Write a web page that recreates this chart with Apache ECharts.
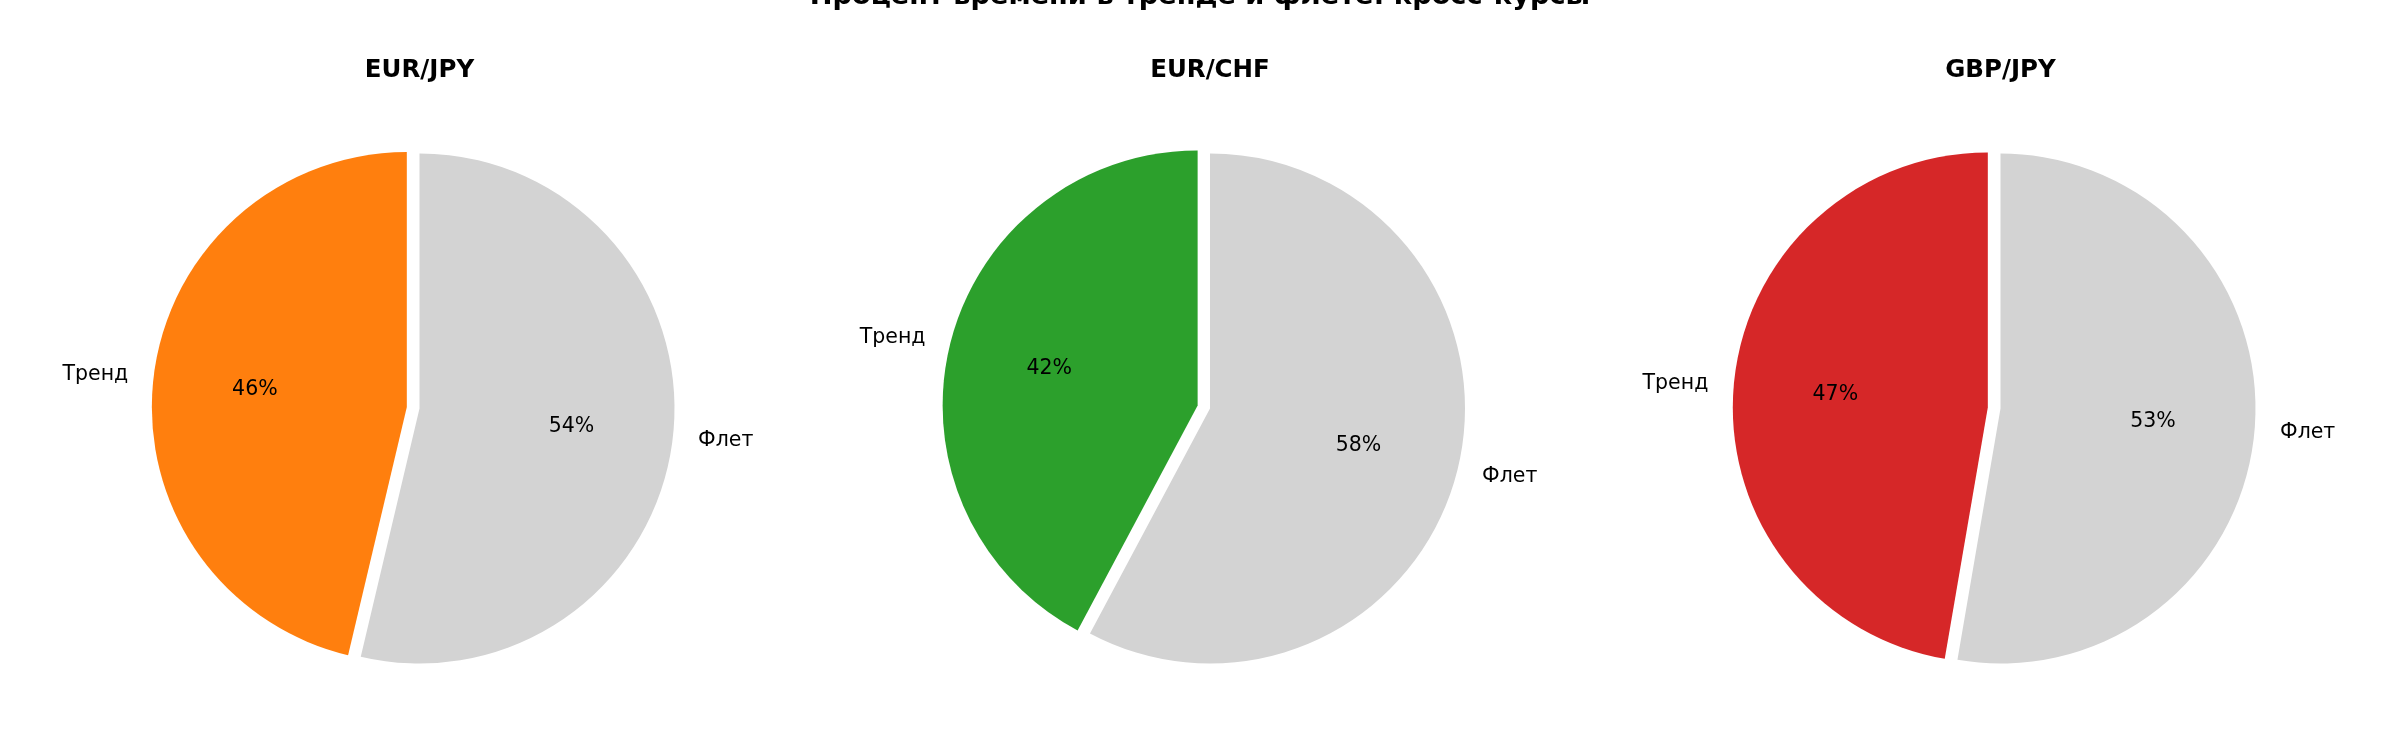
<!DOCTYPE html>
<html><head><meta charset="utf-8">
<script src="https://cdn.jsdelivr.net/npm/echarts@6/dist/echarts.min.js"></script>
<style>html,body{margin:0;padding:0;background:#fff}#c{width:2400px;height:750px}</style>
</head><body><div id="c"></div>
<script>
// ---- data ----
const suptitle = 'Процент времени в тренде и флете: кросс-курсы';
const pairs = ['EUR/JPY', 'EUR/CHF', 'GBP/JPY'];
const categories = ['Тренд', 'Флет'];
const trendPct = [46.3, 42.2, 47.3];
const flatPct = [53.7, 57.8, 52.7];
const trendColors = ['#ff7f0e', '#2ca02c', '#d62728'];
const flatColor = '#d3d3d3';

// ---- layout ----
const centersX = [419.5, 1210, 2000.5];
const cy = 408.5;
const R = 255;
const FONT = 'DejaVu Sans';

const chart = echarts.init(document.getElementById('c'), null, {renderer: 'canvas'});

const titles = [{
  text: suptitle, left: 1200, top: -16.5, padding: 0,
  textAlign: 'center', textVerticalAlign: 'top',
  textStyle: {fontFamily: FONT, fontSize: 27.2, fontWeight: 'bold', color: '#000'}
}];
const series = [];
pairs.forEach((p, i) => {
  titles.push({
    text: p, left: centersX[i], top: 58.5, padding: 0,
    textAlign: 'center', textVerticalAlign: 'top',
    textStyle: {fontFamily: FONT, fontSize: 24.5, fontWeight: 'bold', color: '#000'}
  });
  const vals = [trendPct[i], flatPct[i]];
  const cols = [trendColors[i], flatColor];
  // visible pie with outer category labels
  series.push({
    type: 'pie', center: [centersX[i], cy], radius: R,
    startAngle: 90, clockwise: false,
    selectedMode: true, selectedOffset: 0.05 * R,
    avoidLabelOverlap: false, animation: false,
    emphasis: {disabled: true}, silent: true,
    select: {itemStyle: {borderWidth: 0}},
    itemStyle: {borderWidth: 0},
    label: {show: true, position: 'outside', formatter: '{b}', distanceToLabelLine: 0,
            fontFamily: FONT, fontSize: 20.5, color: '#000'},
    labelLine: {show: false, length: 0.1 * R, length2: 0},
    data: categories.map((c, k) => ({name: c, value: vals[k], selected: k === 0,
      itemStyle: {color: cols[k]}}))
  });
  // transparent ring carrying percentage labels at 0.6 R
  series.push({
    type: 'pie', center: [centersX[i], cy], radius: [0.2 * R - 6, R],
    startAngle: 90, clockwise: false,
    selectedMode: true, selectedOffset: 0.05 * R,
    avoidLabelOverlap: false, animation: false,
    emphasis: {disabled: true}, silent: true, z: 3,
    select: {itemStyle: {borderWidth: 0}},
    itemStyle: {color: 'rgba(0,0,0,0)', borderWidth: 0},
    label: {show: true, position: 'inside',
            formatter: (q) => Math.round(q.percent) + '%',
            fontFamily: FONT, fontSize: 20.5, color: '#000'},
    labelLine: {show: false},
    data: categories.map((c, k) => ({name: c, value: vals[k], selected: k === 0}))
  });
});

chart.setOption({
  backgroundColor: '#ffffff',
  animation: false,
  title: titles,
  series: series
});
</script>
</body></html>
